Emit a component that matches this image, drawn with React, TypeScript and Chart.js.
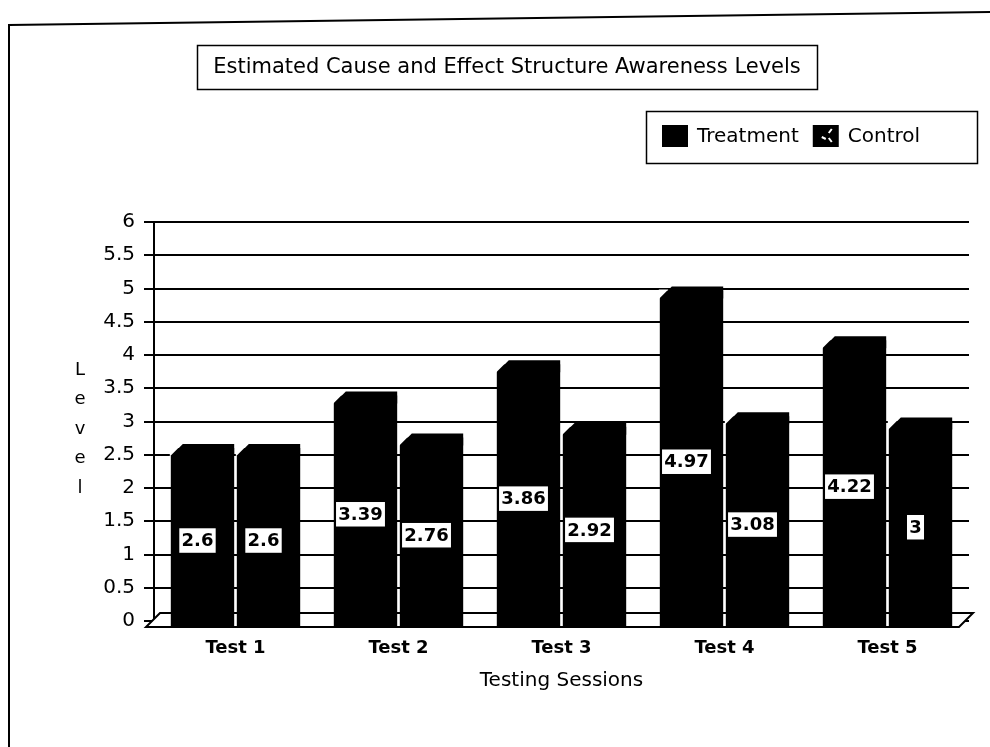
import React, { useEffect, useRef } from "react";
import { Chart, registerables } from "chart.js";

Chart.register(...registerables);

const categories = ["Test 1", "Test 2", "Test 3", "Test 4", "Test 5"];
const treatment = [2.6, 3.39, 3.86, 4.97, 4.22];
const control = [2.6, 2.76, 2.92, 3.08, 3];
const seriesNames = ["Treatment", "Control"];
const chartTitle = "Estimated Cause and Effect Structure Awareness Levels";
const xTitle = "Testing Sessions";
const yTitle = "Level";
const yMin = 0;
const yMax = 6;
const yStep = 0.5;

const FONT = '"DejaVu Sans", Verdana, sans-serif';

const decorPlugin = {
  id: "decor",
  beforeDraw(chart: any) {
    const { ctx } = chart;
    ctx.save();
    ctx.fillStyle = "#fff";
    ctx.fillRect(0, 0, chart.width, chart.height);
    ctx.strokeStyle = "#000";
    ctx.lineWidth = 2;
    // outer frame
    ctx.beginPath();
    ctx.moveTo(9, 747);
    ctx.lineTo(9, 25);
    ctx.lineTo(990, 12);
    ctx.stroke();

    // title box
    ctx.lineWidth = 1.5;
    ctx.strokeRect(197.5, 45.5, 620, 44);
    ctx.fillStyle = "#000";
    ctx.font = `21px ${FONT}`;
    ctx.textAlign = "center";
    ctx.textBaseline = "middle";
    ctx.fillText(chartTitle, 507, 68);

    // legend box
    ctx.strokeRect(646.5, 111.5, 331, 52);
    ctx.font = `20px ${FONT}`;
    ctx.textAlign = "left";
    let x = 662;
    const cy = 137;
    seriesNames.forEach((name, i) => {
      ctx.fillStyle = "#000";
      ctx.fillRect(x, cy - 12, 26, 22);
      if (i === 1) {
        ctx.strokeStyle = "#fff";
        ctx.lineWidth = 2;
        ctx.beginPath();
        ctx.moveTo(x + 9, cy);
        ctx.lineTo(x + 13, cy + 2);
        ctx.moveTo(x + 16, cy - 4);
        ctx.lineTo(x + 19, cy - 8);
        ctx.moveTo(x + 16, cy + 1);
        ctx.lineTo(x + 19, cy + 5);
        ctx.stroke();
      }
      x += 35;
      ctx.fillStyle = "#000";
      ctx.fillText(name, x, cy);
      x += ctx.measureText(name).width + 14;
    });

    // y-axis title, stacked letters
    ctx.font = `18px ${FONT}`;
    ctx.textAlign = "center";
    yTitle.split("").forEach((ch, i) => {
      ctx.fillText(ch, 80, 370 + i * 29.5);
    });
    ctx.restore();
  },
  beforeDatasetsDraw(chart: any) {
    const { ctx, chartArea } = chart;
    const { left, right, bottom } = chartArea;
    ctx.save();
    ctx.fillStyle = "#fff";
    ctx.strokeStyle = "#000";
    ctx.lineWidth = 2;
    ctx.beginPath();
    ctx.moveTo(left - 8, bottom + 6);
    ctx.lineTo(right - 10, bottom + 6);
    ctx.lineTo(right + 4, bottom - 8);
    ctx.lineTo(left + 6, bottom - 8);
    ctx.closePath();
    ctx.fill();
    ctx.stroke();
    ctx.restore();
  },
  afterDatasetsDraw(chart: any) {
    const { ctx } = chart;
    const yScale = chart.scales.y;
    ctx.save();
    chart.data.datasets.forEach((ds: any, di: number) => {
      const meta = chart.getDatasetMeta(di);
      meta.data.forEach((bar: any, i: number) => {
        const v = ds.data[i];
        const left = bar.x - bar.width / 2;
        const right = bar.x + bar.width / 2;
        const top = bar.y;
        // 3D top face with chamfered front-left corner
        ctx.fillStyle = "#000";
        ctx.beginPath();
        ctx.moveTo(left, top + 8);
        ctx.lineTo(left + 12, top - 4);
        ctx.lineTo(right, top - 4);
        ctx.lineTo(right, top + 8);
        ctx.closePath();
        ctx.fill();
        ctx.fillStyle = "#fff";
        ctx.beginPath();
        ctx.moveTo(left - 1, top - 1);
        ctx.lineTo(left + 8.5, top - 1);
        ctx.lineTo(left - 1, top + 8.5);
        ctx.closePath();
        ctx.fill();
        // front face reaches the floor edge
        ctx.fillStyle = "#000";
        ctx.fillRect(left, bar.base, right - left, 6);

        // value label
        const text = String(v);
        ctx.font = `bold 18px ${FONT}`;
        const w = ctx.measureText(text).width + 6;
        const h = 26;
        const cx = bar.x - 5;
        const cy = yScale.getPixelForValue(v / 2 - 0.09);
        ctx.fillStyle = "#fff";
        ctx.fillRect(cx - w / 2, cy - h / 2, w, h);
        ctx.strokeStyle = "#000";
        ctx.lineWidth = 1.5;
        ctx.strokeRect(cx - w / 2, cy - h / 2, w, h);
        ctx.fillStyle = "#000";
        ctx.textAlign = "center";
        ctx.textBaseline = "middle";
        ctx.fillText(text, cx, cy + 1);
      });
    });
    ctx.restore();
  },
};

export default function App() {
  const canvasRef = useRef<HTMLCanvasElement | null>(null);

  useEffect(() => {
    if (!canvasRef.current) return;
    const chart = new Chart(canvasRef.current, {
      type: "bar",
      data: {
        labels: categories,
        datasets: [
          {
            label: seriesNames[0],
            data: treatment,
            backgroundColor: "#000",
            borderWidth: 0,
            categoryPercentage: 0.81,
            barPercentage: 0.96,
          },
          {
            label: seriesNames[1],
            data: control,
            backgroundColor: "#000",
            borderWidth: 0,
            categoryPercentage: 0.81,
            barPercentage: 0.96,
          },
        ],
      },
      options: {
        animation: false,
        responsive: false,
        maintainAspectRatio: false,
        layout: { padding: { left: 0, top: 222, right: 21, bottom: 0 } },
        plugins: {
          legend: { display: false },
          title: { display: false },
          tooltip: { enabled: false },
        },
        scales: {
          x: {
            grid: { display: false, drawTicks: false },
            border: { display: false },
            ticks: {
              color: "#000",
              padding: 17,
              font: { family: FONT, size: 18, weight: "bold" },
            },
            title: {
              display: true,
              text: xTitle,
              color: "#000",
              font: { family: FONT, size: 20 },
              padding: { top: 4, bottom: 54 },
            },
            afterFit: (s: any) => {
              s.height = 126;
            },
          },
          y: {
            min: yMin,
            max: yMax,
            ticks: {
              stepSize: yStep,
              color: "#000",
              padding: 9,
              font: { family: FONT, size: 20 },
              callback: (v: any) => String(Number(v)),
            },
            grid: { color: "#000", lineWidth: 2, tickLength: 10 },
            border: { color: "#000", width: 2 },
            afterFit: (s: any) => {
              s.width = 154;
            },
          },
        },
      },
      plugins: [decorPlugin],
    });
    return () => chart.destroy();
  }, []);

  return (
    <div style={{ position: "absolute", left: 0, top: 0, width: 990, height: 747 }}>
      <canvas ref={canvasRef} width={990} height={747} />
    </div>
  );
}
